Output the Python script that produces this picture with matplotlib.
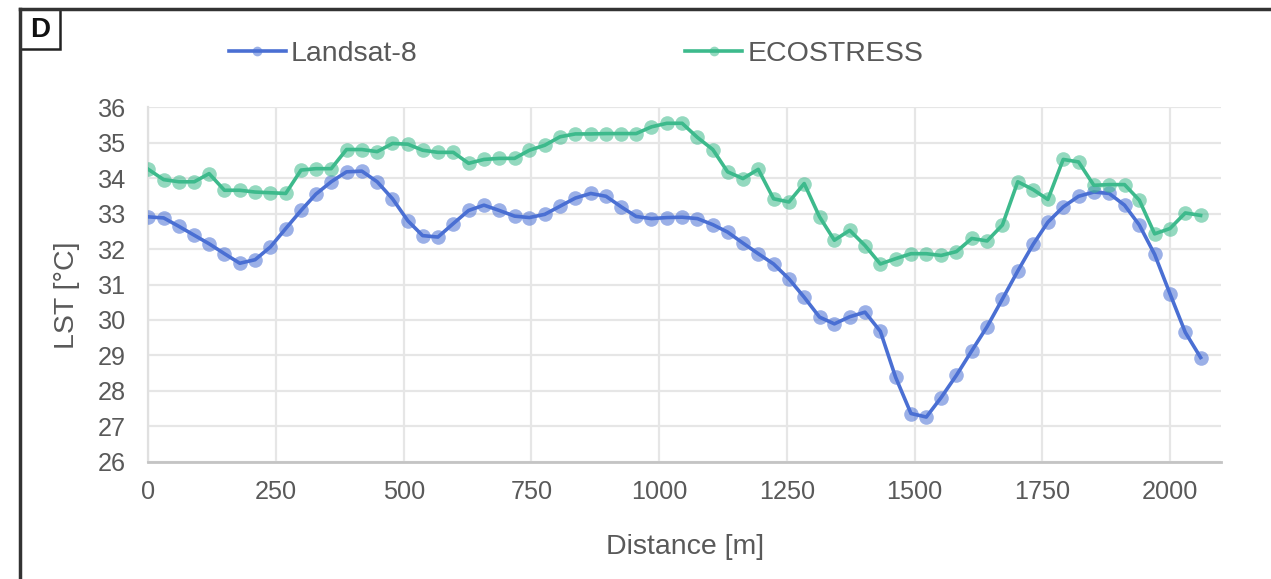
import numpy as np
import matplotlib
matplotlib.use("Agg")
import matplotlib.pyplot as plt
from matplotlib.patches import Rectangle
from matplotlib.lines import Line2D

plt.rcParams['font.family'] = ['Liberation Sans', 'DejaVu Sans']

# distance along the profile [m]
distance = [0, 30, 60, 90, 119, 149, 179, 209, 239, 269,
            299, 328, 358, 388, 418, 448, 478, 508, 537, 567,
            597, 627, 657, 687, 717, 746, 776, 806, 836, 866,
            896, 926, 955, 985, 1015, 1045, 1075, 1105, 1134, 1164,
            1194, 1224, 1254, 1284, 1314, 1343, 1373, 1403, 1433, 1463,
            1493, 1523, 1552, 1582, 1612, 1642, 1672, 1702, 1732, 1761,
            1791, 1821, 1851, 1881, 1911, 1940, 1970, 2000, 2030, 2060]

landsat = [32.91, 32.88, 32.64, 32.39, 32.15, 31.87, 31.60, 31.70, 32.06, 32.58,
           33.09, 33.55, 33.90, 34.18, 34.20, 33.90, 33.42, 32.80, 32.38, 32.34,
           32.72, 33.09, 33.24, 33.09, 32.93, 32.89, 32.98, 33.21, 33.44, 33.57,
           33.49, 33.19, 32.92, 32.86, 32.89, 32.90, 32.86, 32.69, 32.48, 32.17,
           31.87, 31.58, 31.16, 30.64, 30.08, 29.89, 30.09, 30.22, 29.68, 28.38,
           27.36, 27.26, 27.81, 28.44, 29.13, 29.81, 30.59, 31.38, 32.13, 32.76,
           33.19, 33.49, 33.61, 33.57, 33.24, 32.68, 31.85, 30.74, 29.65, 28.94]

ecostress = [34.25, 33.96, 33.90, 33.90, 34.13, 33.66, 33.66, 33.61, 33.59, 33.57,
             34.23, 34.27, 34.27, 34.81, 34.81, 34.75, 34.98, 34.96, 34.79, 34.73,
             34.73, 34.42, 34.53, 34.56, 34.56, 34.79, 34.93, 35.17, 35.25, 35.25,
             35.26, 35.26, 35.26, 35.45, 35.55, 35.55, 35.15, 34.81, 34.18, 33.99,
             34.25, 33.42, 33.33, 33.85, 32.91, 32.25, 32.53, 32.10, 31.58, 31.73,
             31.87, 31.87, 31.82, 31.93, 32.30, 32.23, 32.68, 33.90, 33.68, 33.40,
             34.53, 34.46, 33.80, 33.82, 33.82, 33.38, 32.43, 32.58, 33.02, 32.95]

x_ticks = [0, 250, 500, 750, 1000, 1250, 1500, 1750, 2000]
y_ticks = [26, 27, 28, 29, 30, 31, 32, 33, 34, 35, 36]

blue = '#4a6fd3'
green = '#3dba8c'
blue_m = (0.29, 0.44, 0.83, 0.55)
green_m = (0.24, 0.73, 0.55, 0.55)
text_col = '#595959'
fs_tick = 18.2
fs_title = 20.5

fig = plt.figure(figsize=(12.71, 5.79), dpi=100)
ax = fig.add_axes([0.1167, 0.2026, 0.844, 0.612])

ax.plot(distance, landsat, color=blue, lw=2.6, marker='o', ms=10.5,
        mfc=blue_m, mec='none', zorder=3)
ax.plot(distance, ecostress, color=green, lw=2.6, marker='o', ms=10.5,
        mfc=green_m, mec='none', zorder=3)

ax.set_xlim(0, 2100)
ax.set_ylim(26, 36)
ax.set_xticks(x_ticks)
ax.set_yticks(y_ticks)
ax.grid(True, color='#e6e6e6', lw=1.6)
ax.set_axisbelow(True)
for s in ['top', 'right']:
    ax.spines[s].set_visible(False)
ax.spines['left'].set_color('#e0e0e0')
ax.spines['left'].set_linewidth(1.6)
ax.spines['bottom'].set_color('#c4c4c4')
ax.spines['bottom'].set_linewidth(2)
ax.tick_params(axis='both', length=0, labelsize=fs_tick, labelcolor=text_col)
ax.tick_params(axis='x', pad=13)
ax.tick_params(axis='y', pad=16)

ax.set_xlabel('Distance [m]', fontsize=fs_title, color=text_col, labelpad=22)
ax.set_ylabel('LST [°C]', fontsize=fs_title, color=text_col, labelpad=13)
ax.yaxis.label.set_y(0.47)

# legend, two entries spread over the top
handles = [Line2D([], [], color=blue, lw=2.6, marker='o', ms=7,
                  mfc=blue_m, mec='none'),
           Line2D([], [], color=green, lw=2.6, marker='o', ms=7,
                  mfc=green_m, mec='none')]
leg = fig.legend(handles, ['Landsat-8', 'ECOSTRESS'], ncol=2, frameon=False,
                 fontsize=fs_title, labelcolor=text_col, handlelength=2.0,
                 handletextpad=0.18, columnspacing=9.4,
                 loc='center left', bbox_to_anchor=(0.160, 0.907))

# panel frame and label box
fig.add_artist(Line2D([0.0157, 1.0], [0.9845, 0.9845], color='#333333', lw=2.5,
                      transform=fig.transFigure))
fig.add_artist(Line2D([0.0157, 0.0157], [0.0, 0.9845], color='#333333', lw=2.5,
                      transform=fig.transFigure))
fig.add_artist(Rectangle((0.0157, 0.9845 - 40 / 579), 40 / 1271, 40 / 579,
                         fill=False, ec='#222222', lw=1.8,
                         transform=fig.transFigure))
fig.text(0.0157 + 20 / 1271, 0.9845 - 21 / 579, 'D', fontsize=20,
         fontweight='bold', ha='center', va='center', color='#111111')

fig.savefig('out.png', dpi=100, facecolor='white')
